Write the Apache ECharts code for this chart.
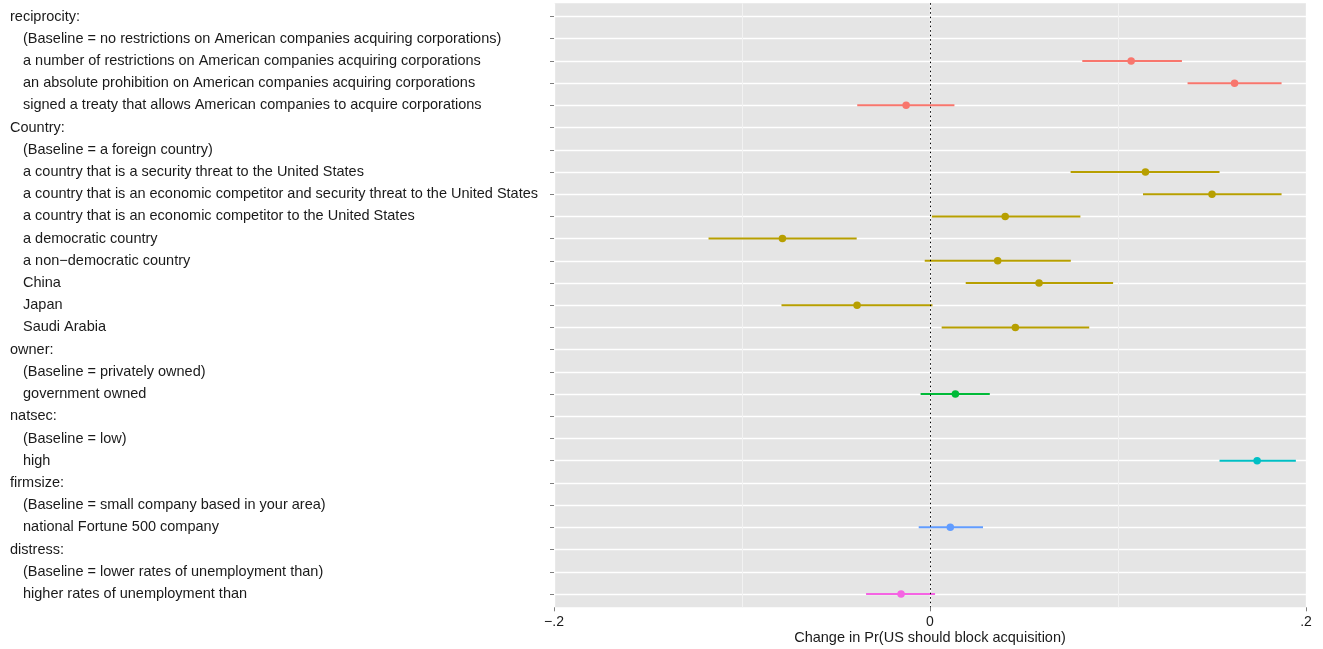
<!DOCTYPE html>
<html>
<head>
<meta charset="utf-8">
<script src="https://cdn.jsdelivr.net/npm/echarts@6/dist/echarts.min.js"></script>
<style>
  html, body { margin: 0; padding: 0; background: #fff; }
  #chart { width: 1323px; height: 649px; }
</style>
</head>
<body>
<div id="chart"></div>
<script>
// Row labels, top to bottom; kind 'h' = group heading, 'i' = indented level
const rowLabels = [
  'reciprocity:',
  '(Baseline = no restrictions on American companies acquiring corporations)',
  'a number of restrictions on American companies acquiring corporations',
  'an absolute prohibition on American companies acquiring corporations',
  'signed a treaty that allows American companies to acquire corporations',
  'Country:',
  '(Baseline = a foreign country)',
  'a country that is a security threat to the United States',
  'a country that is an economic competitor and security threat to the United States',
  'a country that is an economic competitor to the United States',
  'a democratic country',
  'a non\u2212democratic country',
  'China',
  'Japan',
  'Saudi Arabia',
  'owner:',
  '(Baseline = privately owned)',
  'government owned',
  'natsec:',
  '(Baseline = low)',
  'high',
  'firmsize:',
  '(Baseline = small company based in your area)',
  'national Fortune 500 company',
  'distress:',
  '(Baseline = lower rates of unemployment than)',
  'higher rates of unemployment than'
];
const rowKinds = ['h','i','i','i','i','h','i','i','i','i','i','i','i','i','i','h','i','i','h','i','i','h','i','i','h','i','i'];

// Attribute group of each row (index into groupColors)
const rowGroup = [0,0,0,0,0,1,1,1,1,1,1,1,1,1,1,2,2,2,3,3,3,4,4,4,5,5,5];
const groupColors = ['#F8766D', '#B79F00', '#00BA38', '#00BFC4', '#619CFF', '#F564E3'];

// Estimated change in probability and 95% interval (null = heading / baseline)
const estimate = [null, null, 0.107, 0.162, -0.0127,
  null, null, 0.1146, 0.150, 0.040, -0.0785, 0.036, 0.058, -0.0388, 0.0454,
  null, null, 0.0135, null, null, 0.174, null, null, 0.0108, null, null, -0.0154];
const lower = [null, null, 0.081, 0.137, -0.0387,
  null, null, 0.0748, 0.1133, 0.001, -0.1178, -0.0028, 0.019, -0.079, 0.0062,
  null, null, -0.005, null, null, 0.154, null, null, -0.006, null, null, -0.034];
const upper = [null, null, 0.134, 0.187, 0.013,
  null, null, 0.154, 0.187, 0.080, -0.039, 0.0749, 0.0974, 0.0013, 0.0847,
  null, null, 0.0318, null, null, 0.1946, null, null, 0.0282, null, null, 0.0027];

const xTickLabels = { '-0.2': '\u2212.2', '0': '0', '0.2': '.2' };
const xTitle = 'Change in Pr(US should block acquisition)';

const rowIndex = rowLabels.map((_, i) => i);
const textColor = '#1a1a1a';
const labelSize = 14.5;

// one interval series and one point series per attribute group
const intervalData = [], pointData = [];
groupColors.forEach(() => { intervalData.push([]); pointData.push([]); });
rowIndex.forEach(i => {
  if (estimate[i] === null) return;
  intervalData[rowGroup[i]].push([lower[i], upper[i], i]);
  pointData[rowGroup[i]].push([estimate[i], i]);
});

const series = [];
groupColors.forEach((col, g) => {
  series.push({
    type: 'custom',
    name: 'ci' + g,
    data: intervalData[g],
    encode: { x: [0, 1], y: 2 },
    z: 3,
    renderItem: function (params, api) {
      const a = api.coord([api.value(0), api.value(2)]);
      const b = api.coord([api.value(1), api.value(2)]);
      return {
        type: 'line',
        shape: { x1: a[0], y1: a[1], x2: b[0], y2: b[1] },
        style: { stroke: col, lineWidth: 2 }
      };
    },
    silent: true
  });
  series.push({
    type: 'scatter',
    name: 'pt' + g,
    data: pointData[g],
    symbol: 'circle',
    symbolSize: 7.5,
    itemStyle: { color: col, opacity: 1 },
    z: 4,
    silent: true
  });
});

// zero reference line
series.push({
  type: 'scatter',
  data: [],
  z: 2,
  markLine: {
    silent: true,
    symbol: ['none', 'none'],
    label: { show: false },
    lineStyle: { color: '#000', width: 1, type: [1.5, 3] },
    data: [{ xAxis: 0 }]
  }
});

const chart = echarts.init(document.getElementById('chart'), null, { renderer: 'canvas' });
chart.setOption({
  animation: false,
  backgroundColor: '#ffffff',
  textStyle: { fontFamily: 'Liberation Sans, Arial, sans-serif' },
  grid: {
    left: 554, right: 17, top: 3.2, bottom: 41.7,
    outerBoundsMode: 'none',
    containLabel: false,
    show: true, backgroundColor: '#E5E5E5', borderWidth: 0
  },
  xAxis: {
    type: 'value',
    min: -0.2, max: 0.2, interval: 0.2,
    axisLine: { show: false, onZero: false },
    axisTick: { show: true, length: 4, lineStyle: { color: '#7F7F7F', width: 1 } },
    axisLabel: {
      color: textColor, fontSize: 14, margin: 8,
      formatter: v => xTickLabels[String(Math.round(v * 10) / 10)]
    },
    splitLine: { show: true, lineStyle: { color: '#ffffff', width: 1.3 } },
    minorTick: { show: false, splitNumber: 2 },
    minorSplitLine: { show: true, lineStyle: { color: '#F2F2F2', width: 1 } },
    name: xTitle,
    nameLocation: 'middle',
    nameGap: 23,
    nameMoveOverlap: false,
    nameTextStyle: { color: textColor, fontSize: labelSize, verticalAlign: 'top' }
  },
  yAxis: {
    type: 'value',
    inverse: true,
    min: -0.6, max: 26.6,
    axisLine: { show: false, onZero: false },
    axisTick: { show: true, length: 4, customValues: rowIndex, lineStyle: { color: '#7F7F7F', width: 1 } },
    axisLabel: {
      customValues: rowIndex,
      align: 'left',
      margin: 544,
      fontSize: labelSize,
      color: textColor,
      formatter: v => {
        const i = Math.round(v);
        return rowKinds[i] === 'h' ? '{h|' + rowLabels[i] + '}' : '{i|' + rowLabels[i] + '}';
      },
      rich: {
        h: { fontSize: labelSize, color: textColor },
        i: { fontSize: labelSize, color: textColor, padding: [0, 0, 0, 13] }
      }
    },
    splitLine: { show: true, lineStyle: { color: '#ffffff', width: 1.3 } }
  },
  series: series
});
</script>
</body>
</html>
